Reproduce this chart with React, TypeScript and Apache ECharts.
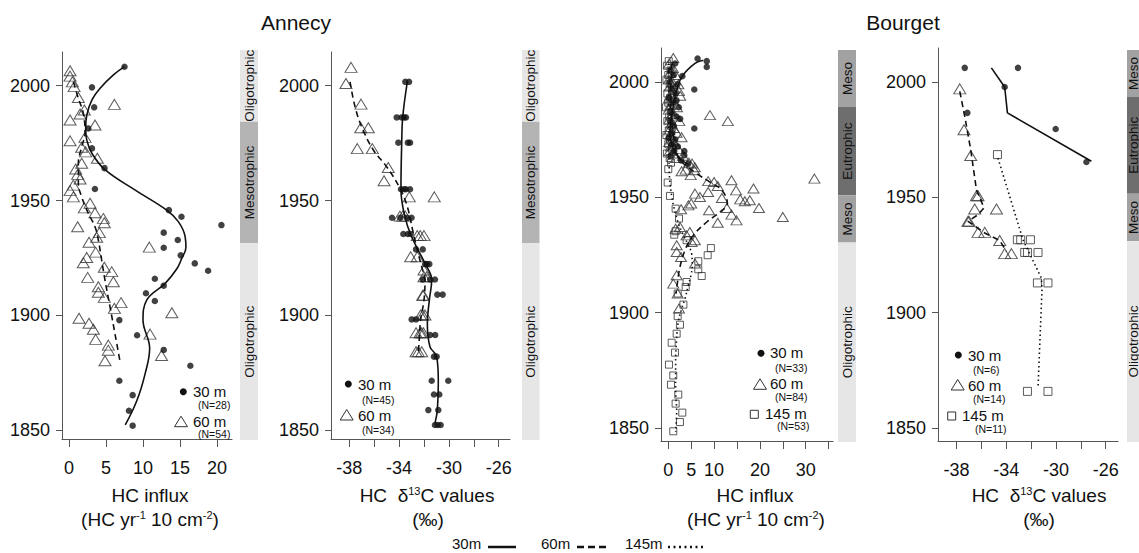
import React, { useEffect, useRef } from "react";
import * as echarts from "echarts";

const FONT = "'Liberation Sans', Arial, sans-serif";

// ---------- tick values ----------
const yearTicks = [1850, 1900, 1950, 2000];
const influxTicksA = [0, 5, 10, 15, 20];
const influxTicksB = [0, 5, 10, 15, 20, 25, 30, 35];
const influxLabelsB = [0, 5, 10, 20, 30];
const d13Ticks = [-38, -36, -34, -32, -30, -28, -26];
const d13Labels = [-38, -34, -30, -26];

// ---------- Annecy HC influx ([value, year]) ----------
const annecyInflux30 = [
  [7.5, 2008.3], [3.1, 1999.3], [3.4, 1990.6], [2.6, 1981.4], [3.1, 1972.7], [4.8, 1964.1], [3.5, 1955],
  [13.5, 1945.8], [15.2, 1942.9], [20.6, 1939.3], [12.8, 1936], [14.7, 1932.8], [12.8, 1929.4], [15.1, 1926.1],
  [17.0, 1922.6], [18.8, 1919.4], [11.6, 1915.9], [12.8, 1912.9], [10.4, 1909.6], [11.6, 1906.2], [6.8, 1897.9],
  [9.2, 1891.3], [12.8, 1884.9], [16.4, 1878], [6.8, 1871.5], [8.6, 1865.2], [8.1, 1858.4], [8.6, 1851.9]
];
const annecyInflux30Fit = [
  [7.5, 2008.3], [6.0, 2004.7], [4.2, 1998.9], [3.1, 1993.8], [2.4, 1987.2], [2.25, 1981.4], [2.4, 1976.3],
  [3.1, 1970.5], [4.9, 1963.3], [8.9, 1954.6], [13.2, 1945.8], [14.8, 1940.7], [15.7, 1934.2], [15.8, 1929.5],
  [15.2, 1924.5], [14.6, 1920.4], [13.0, 1913.9], [10.5, 1906.6], [10.0, 1897.9], [10.9, 1885.6], [10.3, 1874.7],
  [9.2, 1863.1], [7.6, 1852.2]
];
const annecyInflux60 = [
  [0.14, 2006.5], [0.14, 2004.2], [0.45, 2001.7], [0.68, 1999.6], [1.26, 1994.9], [6.13, 1991.9], [2.07, 1989.4],
  [1.49, 1987.7], [0.14, 1985.1], [3.51, 1982.9], [2.16, 1977.5], [0.14, 1976.0], [1.71, 1973.2], [2.25, 1971.2],
  [3.83, 1968.4], [1.71, 1966.2], [0.9, 1963.7], [1.17, 1961.4], [1.49, 1959.4], [0.59, 1956.7], [0.14, 1954.3],
  [0.59, 1951.6], [2.84, 1948.8], [2.07, 1946.8], [3.51, 1944.7], [4.64, 1942.2], [4.77, 1940.3], [1.17, 1938.6],
  [4.1, 1936], [3.74, 1934], [2.7, 1931.8], [10.85, 1929.7], [3.6, 1927.5], [2.39, 1925.2], [1.93, 1922.9],
  [4.77, 1920.9], [5.77, 1919], [2.52, 1916.5], [5.99, 1914.6], [3.96, 1912.4], [3.96, 1910], [4.77, 1907.8],
  [7.03, 1905.5], [6.13, 1903], [13.9, 1901.1], [1.35, 1898.7], [2.7, 1896.5], [3.29, 1893.9], [3.6, 1889.5],
  [10.95, 1891.8], [5.31, 1887], [5.31, 1884.8], [12.5, 1882.5], [4.86, 1880.2]
];
const annecyInflux60Fit = [
  [0.59, 2001.7], [1.26, 1994.5], [1.93, 1988], [2.16, 1979.3], [1.71, 1973.4], [1.26, 1966.2], [1.26, 1957.5],
  [1.71, 1951.6], [2.61, 1944.4], [3.51, 1938.6], [3.96, 1932.8], [4.41, 1924.1], [4.86, 1915.3], [5.54, 1903.7],
  [6.2, 1892.1], [6.9, 1879.8]
];

// ---------- Annecy HC d13C ----------
const annecyD13_30 = [
  [-33.5, 2001.7], [-33.2, 2001.7],
  [-34.19, 1986.2], [-33.79, 1986.2], [-33.45, 1986.2], [-33.6, 1986.2],
  [-34.06, 1975.2], [-33.12, 1975.2], [-33.3, 1975.2],
  [-33.85, 1954.9], [-33.45, 1954.9], [-33.12, 1954.9], [-33.6, 1954.9],
  [-34.57, 1942.5], [-33.34, 1942.5], [-33.9, 1942.5], [-33.0, 1942.5],
  [-33.66, 1935.4], [-33.07, 1935.4], [-33.3, 1935.4],
  [-32.64, 1928.7], [-32.1, 1928.7],
  [-31.78, 1922.3], [-31.57, 1922.3], [-31.9, 1922.3],
  [-32.1, 1915.6], [-31.12, 1915.6], [-31.5, 1915.6],
  [-30.93, 1909], [-30.5, 1909],
  [-32.99, 1898.2], [-32.64, 1898.2],
  [-31.5, 1891.4], [-31.1, 1891.4],
  [-30.98, 1882], [-31.2, 1882],
  [-31.38, 1871.5], [-30.05, 1871.5],
  [-31.2, 1865.5], [-30.77, 1865.5],
  [-31.65, 1858.7], [-30.85, 1858.7],
  [-31.12, 1852.2], [-30.66, 1852.2], [-30.9, 1852.2]
];
const annecyD13_30Fit = [
  [-33.34, 2001.7], [-33.71, 1986.2], [-33.79, 1974.9], [-33.85, 1954.9], [-33.53, 1942.9], [-32.99, 1934.2],
  [-31.92, 1922.6], [-31.38, 1915.4], [-31.57, 1906.6], [-31.73, 1896.5], [-31.52, 1886.3], [-30.98, 1882],
  [-30.85, 1871.8], [-30.93, 1858.7], [-31.12, 1852.9]
];
const annecyD13_60 = [
  [-37.86, 2008], [-38.27, 2001], [-37.06, 1992], [-37.08, 1981.7], [-36.47, 1981.7], [-37.36, 1972.6],
  [-36.15, 1972.6], [-34.87, 1964.4], [-35.21, 1958.6], [-33.18, 1951.6], [-31.17, 1951.6], [-33.93, 1943.2],
  [-33.71, 1943.2], [-33.5, 1943.2], [-32.54, 1934.7], [-32.0, 1934.7], [-32.3, 1934.7], [-33.07, 1925.5],
  [-32.54, 1925.5], [-32.0, 1919.7], [-32.0, 1916.8], [-31.78, 1916.8], [-32.05, 1908.7], [-32.1, 1908.7],
  [-32.27, 1900.1], [-31.92, 1900.1], [-32.1, 1900.1], [-32.64, 1892.4], [-32.32, 1892.4], [-32.05, 1892.4],
  [-32.2, 1892.4], [-32.64, 1884.1], [-32.46, 1884.1], [-32.18, 1884.1]
];
const annecyD13_60Fit = [
  [-37.94, 2001.7], [-37.54, 1990.9], [-37.0, 1982.1], [-36.07, 1972], [-35.0, 1964.7], [-33.93, 1955.3],
  [-33.34, 1947.3], [-32.91, 1937.1], [-32.54, 1928.4], [-32.18, 1921.1], [-31.92, 1915.3], [-32.0, 1906.6],
  [-32.27, 1897.9], [-32.38, 1889.2], [-32.46, 1883.4]
];

// ---------- Bourget HC influx ----------
const bourgetInflux30 = [
  [6.4, 2010.1], [8.4, 2009], [8.4, 2006.5], [3.06, 2002.5], [5.68, 1996.7], [5.68, 1979.8], [3.5, 1970],
  [3.5, 1968.2], [4.37, 1964.6],
  [1.5, 2008], [0.5, 2005], [1.2, 2003], [0.3, 2000], [2.0, 1999], [0.8, 1997], [1.6, 1995], [0.2, 1993],
  [1.0, 1991], [2.3, 1989], [0.6, 1987], [1.8, 1985], [0.4, 1983], [1.2, 1981], [2.6, 1984], [0.9, 1978],
  [0.1, 1976], [1.5, 1975], [0.7, 1973], [2.1, 1972], [1.3, 1970], [0.5, 1968], [2.8, 1966], [1.8, 1992]
];
const bourgetInflux30Fit = [
  [7.64, 2009.4], [5.83, 2008], [3.06, 2002.5], [1.83, 1996.4], [0.87, 1987], [0.37, 1978.3], [1.09, 1971.1],
  [2.55, 1966.8], [4.37, 1964.2]
];
const bourgetInflux60 = [
  [1.09, 2010.4], [9.1, 1985.6], [13.0, 1983], [2.34, 1996], [5.2, 1964.6], [5.7, 1961.7], [4.9, 1959.6],
  [2.9, 1961.3], [31.9, 1958.1], [13.8, 1957.4], [8.7, 1957], [10.0, 1956.6], [10.8, 1954.9], [14.8, 1953],
  [18.6, 1953.8], [8.7, 1952.3], [5.83, 1951.6], [6.92, 1950.1], [11.7, 1949.7], [15.7, 1949.1], [16.7, 1948.3],
  [17.8, 1948.7], [12.8, 1945.4], [8.9, 1944.4], [19.8, 1945.4], [25.0, 1941.5], [13.8, 1942.5], [14.9, 1940],
  [10.8, 1939], [2.8, 1944.8], [4.4, 1946.5], [5.0, 1947.3], [1.6, 1936.4], [2.55, 1937.1], [4.0, 1933.5],
  [4.7, 1935], [5.8, 1931.4], [5.1, 1930.6], [1.83, 1929.2], [1.83, 1926.3], [2.77, 1924.1], [5.83, 1921.3],
  [1.83, 1916.2], [1.09, 1912.6], [2.05, 1908.3], [2.34, 1901.8],
  [0.2, 2008], [1.0, 2006], [0.4, 2004], [1.6, 2003], [0.1, 2001], [0.9, 2000], [2.2, 1999], [0.3, 1998],
  [1.3, 1997], [0.6, 1995], [2.6, 1994], [0.2, 1993], [1.1, 1992], [0.5, 1990], [1.9, 1989], [0.1, 1988],
  [0.8, 1986], [1.5, 1985], [0.3, 1984], [2.4, 1983], [0.7, 1982], [1.2, 1980], [0.2, 1979], [1.8, 1978],
  [0.5, 1977], [2.9, 1976], [0.9, 1975], [0.2, 1974], [1.4, 1973], [0.6, 1972], [2.2, 1971], [0.3, 1970],
  [1.0, 1969], [3.2, 1968], [1.7, 1967], [4.5, 1965], [5.8, 1963], [3.8, 1962]
];
const bourgetInflux60Fit = [
  [0.8, 2008], [0.5, 1995], [0.9, 1980], [1.8, 1970], [2.55, 1966.1], [6.2, 1960.3], [9.1, 1956.6], [11.7, 1953],
  [12.9, 1947.3], [11.3, 1943.6], [8.4, 1939.3], [5.46, 1933.5], [3.65, 1927], [2.55, 1919.8], [1.97, 1912.6],
  [1.68, 1908.3]
];
const bourgetInflux145 = [
  [0.0, 1962.2], [-0.13, 1956.4], [0.37, 1950.6], [1.6, 1945.1], [2.34, 1940.8], [1.6, 1935.3], [1.3, 1933.8],
  [4.0, 1931.4], [9.3, 1928], [8.6, 1924.9], [6.55, 1922.3], [6.55, 1918.8], [7.3, 1915.9], [4.0, 1913.3],
  [3.8, 1911.1], [3.3, 1903.5], [2.05, 1908.3], [2.05, 1898.5], [2.55, 1894.8], [1.83, 1890.9], [0.74, 1887],
  [1.46, 1882.7], [0.15, 1877.5], [1.09, 1872.8], [0.59, 1868.8], [2.18, 1864.5], [1.6, 1860.6], [3.06, 1856.7],
  [2.55, 1852.6], [1.09, 1848.6],
  [0.1, 2009], [-0.3, 2007], [0.5, 2005], [0.0, 2003], [-0.4, 2001], [0.3, 1999], [0.8, 1997], [-0.2, 1995],
  [0.4, 1993], [0.0, 1991], [-0.5, 1989], [0.6, 1987], [0.2, 1985], [-0.2, 1983], [0.7, 1981], [0.1, 1979],
  [-0.4, 1977], [0.4, 1975], [0.0, 1973], [0.8, 1971], [-0.3, 1969], [0.3, 1967], [0.6, 1965]
];
const bourgetInflux145Fit = [
  [0.1, 2008], [0.1, 1985], [0.2, 1962], [0.8, 1950], [2.0, 1940], [3.2, 1934], [4.37, 1929.2], [5.1, 1925.6],
  [5.24, 1920.5], [4.96, 1916.2], [4.37, 1911.9], [3.65, 1906.1], [2.93, 1901.8], [2.18, 1896], [1.83, 1888.8],
  [1.6, 1878.6], [1.6, 1867.1], [1.83, 1857], [1.6, 1848.3]
];

// ---------- Bourget HC d13C ----------
const bourgetD13_30 = [
  [-37.33, 2006.1], [-33.05, 2006.1], [-34.12, 1997.8], [-37.12, 1986.6], [-30.02, 1979.6], [-27.55, 1965.3]
];
const bourgetD13_30Fit = [[-35.19, 2006.1], [-34.12, 1997.8], [-33.9, 1986.6], [-27.15, 1965.6]];
const bourgetD13_60 = [
  [-37.73, 1997], [-37.39, 1979.3], [-36.85, 1968.1], [-36.39, 1950.7], [-36.26, 1950.7], [-36.53, 1944.9],
  [-34.78, 1944.9], [-37.07, 1939.6], [-36.99, 1939.6], [-36.26, 1934.8], [-35.72, 1934.8], [-34.52, 1931.3],
  [-34.12, 1925.6], [-33.58, 1925.6]
];
const bourgetD13_60Fit = [
  [-37.73, 1995.9], [-37.33, 1985.1], [-36.85, 1970.6], [-36.39, 1953.3], [-35.78, 1945.4], [-36.26, 1942.5],
  [-37.07, 1939.6], [-35.72, 1934.5], [-34.52, 1931.3], [-33.98, 1926.6]
];
const bourgetD13_145 = [
  [-34.7, 1968.5], [-33.1, 1931.6], [-32.83, 1931.6], [-32.05, 1931.6], [-32.51, 1926.1], [-32.29, 1926.1],
  [-31.44, 1926.1], [-31.49, 1912.9], [-30.64, 1912.9], [-32.29, 1865.9], [-30.64, 1865.9]
];
const bourgetD13_145Fit = [[-34.66, 1967], [-32.65, 1931.6], [-31.17, 1915], [-31.12, 1910], [-31.44, 1867.3]];

// ---------- trophic states ([from year, to year]) ----------
const annecyStates = ["Oligotrophic", "Mesotrophic", "Oligotrophic"];
const annecyStateYears = [[1984.3, 2100], [1931.3, 1984.3], [1800, 1931.3]];
const bourgetStates = ["Meso", "Eutrophic", "Meso", "Oligotrophic"];
const bourgetStateYears3 = [[1989.2, 2100], [1950.9, 1989.2], [1930.4, 1950.9], [1800, 1930.4]];
const bourgetStateYears4 = [[1993.5, 2100], [1951.6, 1993.5], [1931, 1951.6], [1800, 1931]];

export default function App() {
  const ref = useRef<HTMLDivElement>(null);
  useEffect(() => {
    document.body.style.margin = "0";
    if (!ref.current) return;
    const chart = echarts.init(ref.current, undefined, { renderer: "svg" });

    const axisColor = "#555";
    const yRangeA = { min: 1846.1, max: 2014.7 };
    const yRangeB = { min: 1844.4, max: 2014.7 };

    const grids = [
      { left: 62, top: 52, width: 170, height: 387 },
      { left: 331, top: 52, width: 179, height: 387 },
      { left: 661, top: 48, width: 172, height: 393 },
      { left: 938, top: 48, width: 180, height: 393 },
      { left: 240, top: 50, width: 18, height: 390 },
      { left: 522, top: 50, width: 17.5, height: 390 },
      { left: 838, top: 50, width: 18, height: 392 },
      { left: 1127, top: 50, width: 18, height: 392 }
    ];
    const barRanges = [
      { min: 1845.6, max: 2015.55 },
      { min: 1845.6, max: 2015.55 },
      { min: 1843.9, max: 2013.9 },
      { min: 1843.9, max: 2013.9 }
    ];

    const plain = (v: number) => String(v);
    const xAx = (gi: number, min: number, max: number, ticks: number[], labels: number[]) => ({
      type: "value", gridIndex: gi, min, max,
      axisLine: { show: true, onZero: false, lineStyle: { color: axisColor, width: 1 } },
      axisTick: { show: true, length: 8, customValues: ticks, lineStyle: { color: axisColor } },
      axisLabel: { show: true, customValues: labels, formatter: plain, margin: 20, color: "#111", fontSize: 18, fontFamily: FONT },
      splitLine: { show: false }
    });
    const yAx = (gi: number, r: { min: number; max: number }) => ({
      type: "value", gridIndex: gi, min: r.min, max: r.max,
      axisLine: { show: true, onZero: false, lineStyle: { color: axisColor, width: 1 } },
      axisTick: { show: true, length: 6, customValues: yearTicks, lineStyle: { color: axisColor } },
      axisLabel: { show: true, customValues: yearTicks, formatter: plain, margin: 12, color: "#111", fontSize: 18, fontFamily: FONT },
      splitLine: { show: false }
    });
    const hidden = (gi: number, min: number, max: number) => ({
      type: "value", gridIndex: gi, min, max, show: false, splitLine: { show: false }
    });

    const xAxis = [
      xAx(0, -0.95, 22.03, influxTicksA, influxTicksA),
      xAx(1, -39.47, -25.09, d13Ticks, d13Labels),
      xAx(2, -1.59, 35.96, influxTicksB, influxLabelsB),
      xAx(3, -39.48, -25.01, d13Ticks, d13Labels),
      hidden(4, 0, 1), hidden(5, 0, 1), hidden(6, 0, 1), hidden(7, 0, 1)
    ];
    const yAxis = [
      yAx(0, yRangeA), yAx(1, yRangeA), yAx(2, yRangeB), yAx(3, yRangeB),
      hidden(4, barRanges[0].min, barRanges[0].max),
      hidden(5, barRanges[1].min, barRanges[1].max),
      hidden(6, barRanges[2].min, barRanges[2].max),
      hidden(7, barRanges[3].min, barRanges[3].max)
    ];

    const dots = (data: number[][], gi: number) => ({
      type: "scatter", xAxisIndex: gi, yAxisIndex: gi, data, symbol: "circle", symbolSize: 6.5,
      itemStyle: { color: "#111" }, silent: true, z: 3
    });
    const tris = (data: number[][], gi: number, size: number[]) => ({
      type: "scatter", xAxisIndex: gi, yAxisIndex: gi, data, symbol: "triangle", symbolSize: size,
      itemStyle: { color: "rgba(255,255,255,0)", borderColor: "#333", borderWidth: 1 }, silent: true, z: 2
    });
    const squares = (data: number[][], gi: number, size: number) => ({
      type: "scatter", xAxisIndex: gi, yAxisIndex: gi, data, symbol: "rect", symbolSize: size,
      itemStyle: { color: "rgba(255,255,255,0)", borderColor: "#333", borderWidth: 1 }, silent: true, z: 2
    });
    const fit = (data: number[][], gi: number, type: any, smooth: number, width = 1.6) => ({
      type: "line", xAxisIndex: gi, yAxisIndex: gi, data, showSymbol: false, symbol: "none", smooth,
      lineStyle: { color: "#111", width, type }, silent: true, z: 4
    });

    const stateColor: Record<string, string> = {
      Oligotrophic: "#e6e6e6", Mesotrophic: "#b4b4b4", Meso: "#a2a2a2", Eutrophic: "#6e6e6e"
    };
    const bars = (gi: number, names: string[], years: number[][], r: { min: number; max: number }) => ({
      type: "custom", xAxisIndex: gi, yAxisIndex: gi, clip: true, silent: true, z: 1,
      data: years.map((y) => [y[0], y[1]]),
      renderItem: (params: any, api: any) => {
        const i = params.dataIndex;
        const from = years[i][0];
        const to = years[i][1];
        const p1 = api.coord([0, to]);
        const p2 = api.coord([1, from]);
        const mid = (Math.max(from, r.min) + Math.min(to, r.max)) / 2;
        const pm = api.coord([0.5, mid]);
        return {
          type: "group",
          children: [
            { type: "rect", shape: { x: p1[0], y: p1[1], width: p2[0] - p1[0], height: p2[1] - p1[1] },
              style: { fill: stateColor[names[i]] } },
            { type: "text", x: pm[0], y: pm[1], rotation: Math.PI / 2,
              style: { text: names[i], fill: "#111", font: `13.5px ${FONT}`, align: "center", verticalAlign: "middle" } }
          ]
        };
      }
    });

    const series = [
      bars(4, annecyStates, annecyStateYears, barRanges[0]),
      bars(5, annecyStates, annecyStateYears, barRanges[1]),
      bars(6, bourgetStates, bourgetStateYears3, barRanges[2]),
      bars(7, bourgetStates, bourgetStateYears4, barRanges[3]),
      tris(annecyInflux60, 0, [12, 10]),
      dots(annecyInflux30, 0),
      fit(annecyInflux30Fit, 0, "solid", 0.4),
      fit(annecyInflux60Fit, 0, [6, 4], 0.4),
      tris(annecyD13_60, 1, [12, 10]),
      dots(annecyD13_30, 1),
      fit(annecyD13_30Fit, 1, "solid", 0.4),
      fit(annecyD13_60Fit, 1, [6, 4], 0.4),
      squares(bourgetInflux145, 2, 7),
      tris(bourgetInflux60, 2, [11, 9]),
      dots(bourgetInflux30, 2),
      fit(bourgetInflux30Fit, 2, "solid", 0.4),
      fit(bourgetInflux60Fit, 2, [6, 4], 0.4),
      fit(bourgetInflux145Fit, 2, [1.5, 3], 0.4),
      squares(bourgetD13_145, 3, 8),
      tris(bourgetD13_60, 3, [12, 10]),
      dots(bourgetD13_30, 3),
      fit(bourgetD13_30Fit, 3, "solid", 0),
      fit(bourgetD13_60Fit, 3, [6, 4], 0),
      fit(bourgetD13_145Fit, 3, [1.5, 3], 0)
    ];

    // ---------- graphic texts / legends ----------
    const txt = (x: number, y: number, text: string, size: number, align = "center", extra: any = {}) => ({
      type: "text", x, y, silent: true, z: 10,
      style: { text, fill: "#111", font: `${size}px ${FONT}`, align, verticalAlign: "middle", ...extra }
    });
    const sup = { s: { fontSize: 11, fontFamily: FONT, fill: "#111", verticalAlign: "top", lineHeight: 20 },
      n: { fontSize: 19, fontFamily: FONT, fill: "#111", lineHeight: 20 } };
    const richTxt = (x: number, y: number, text: string) => ({
      type: "text", x, y, silent: true, z: 10,
      style: { text, align: "center", verticalAlign: "middle", rich: sup, font: `19px ${FONT}`, fill: "#111" }
    });
    const circle = (cx: number, cy: number) => ({
      type: "circle", shape: { cx, cy, r: 3.5 }, style: { fill: "#111" }, silent: true, z: 10
    });
    const tri = (cx: number, cy: number) => ({
      type: "polygon", shape: { points: [[cx, cy - 5.5], [cx + 6.5, cy + 5], [cx - 6.5, cy + 5]] },
      style: { fill: "none", stroke: "#333", lineWidth: 1 }, silent: true, z: 10
    });
    const sq = (cx: number, cy: number) => ({
      type: "rect", shape: { x: cx - 4, y: cy - 4, width: 8, height: 8 },
      style: { fill: "none", stroke: "#333", lineWidth: 1 }, silent: true, z: 10
    });
    const seg = (x1: number, x2: number, y: number, dash: any) => ({
      type: "line", shape: { x1, y1: y, x2, y2: y },
      style: { stroke: "#111", lineWidth: 2.5, lineDash: dash }, silent: true, z: 10
    });

    const graphic = [
      txt(296, 22, "Annecy", 21),
      txt(903, 22, "Bourget", 21),
      txt(150, 495, "HC influx", 19),
      richTxt(150, 519, "{n|(HC yr}{s|-1}{n| 10 cm}{s|-2}{n|)}"),
      richTxt(427, 495, "{n|HC  δ}{s|13}{n|C values}"),
      txt(428, 519, "(‰)", 19),
      txt(755, 495, "HC influx", 19),
      richTxt(756, 519, "{n|(HC yr}{s|-1}{n| 10 cm}{s|-2}{n|)}"),
      richTxt(1039, 495, "{n|HC  δ}{s|13}{n|C values}"),
      txt(1039, 519, "(‰)", 19),
      // panel 1 legend
      circle(183.3, 391.7), txt(193, 391, "30 m", 15, "left"), txt(198, 405, "(N=28)", 10.5, "left"),
      tri(181, 421.7), txt(193, 421, "60 m", 15, "left"), txt(198, 434, "(N=54)", 10.5, "left"),
      // panel 2 legend
      circle(348.3, 384), txt(358, 384, "30 m", 15, "left"), txt(362, 400, "(N=45)", 10.5, "left"),
      tri(346.7, 415), txt(358, 415, "60 m", 15, "left"), txt(362, 430, "(N=34)", 10.5, "left"),
      // panel 3 legend
      circle(761, 353.3), txt(770, 352, "30 m", 15, "left"), txt(775, 368, "(N=33)", 10.5, "left"),
      tri(760, 384.3), txt(770, 383, "60 m", 15, "left"), txt(775, 397, "(N=84)", 10.5, "left"),
      sq(754.3, 414.3), txt(765, 413, "145 m", 15, "left"), txt(777, 426, "(N=53)", 10.5, "left"),
      // panel 4 legend
      circle(958.3, 355), txt(968, 355, "30 m", 15, "left"), txt(973, 370, "(N=6)", 10.5, "left"),
      tri(957.7, 385), txt(968, 385, "60 m", 15, "left"), txt(973, 398.5, "(N=14)", 10.5, "left"),
      sq(951.7, 416), txt(962, 415, "145 m", 15, "left"), txt(975, 428.5, "(N=11)", 10.5, "left"),
      // bottom legend
      txt(452, 543, "30m", 15, "left"), seg(488, 516, 547, null),
      txt(541, 543, "60m", 15, "left"), seg(577, 610, 547, [7, 4]),
      txt(625, 543, "145m", 15, "left"), seg(668, 703, 547, [2, 3.5])
    ];

    chart.setOption({
      animation: false,
      backgroundColor: "#ffffff",
      grid: grids,
      xAxis,
      yAxis,
      series,
      graphic
    } as any);
    return () => chart.dispose();
  }, []);
  return <div ref={ref} style={{ width: 1139, height: 553 }} />;
}
